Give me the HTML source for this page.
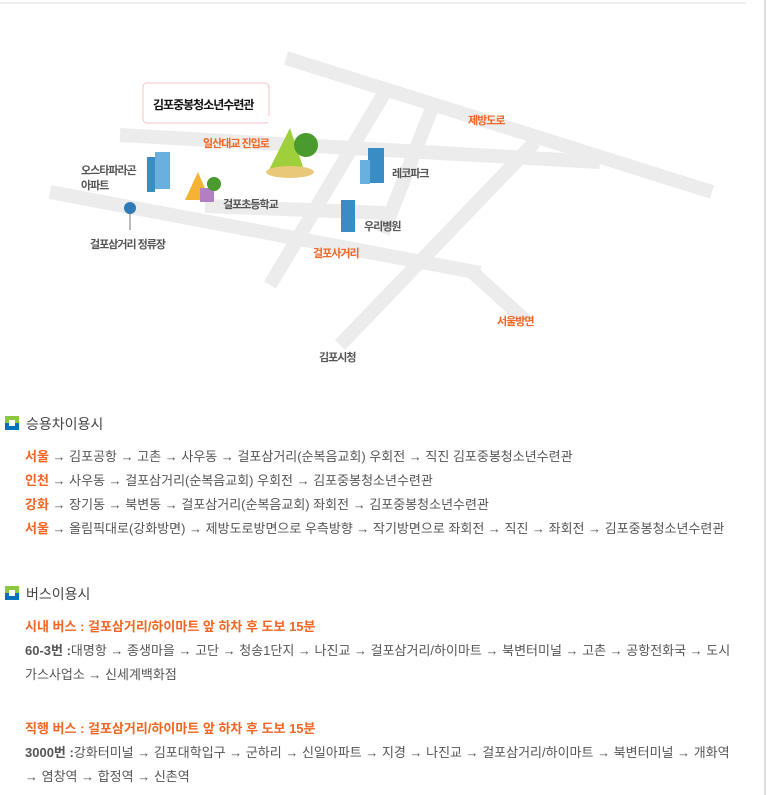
<!DOCTYPE html>
<html><head><meta charset="utf-8"><style>
body{margin:0;width:767px;height:795px;background:#fff;position:relative;overflow:hidden;font-family:"Liberation Sans","Noto Sans CJK KR","NanumGothic",sans-serif;}
.a{position:absolute;white-space:nowrap}
.ml{font-size:11px;color:#555;font-weight:bold;letter-spacing:-1px}
.or{color:#f26522}
.h{font-size:14px;color:#444;left:26px}
.ic{position:absolute;left:5px;width:14px;height:14px;background:linear-gradient(#8dc63f 50%,#0072bc 50%)}
.ic:after{content:"";position:absolute;left:4px;top:4px;width:6px;height:6px;background:#fff}
.t{font-size:13px;color:#555;left:25px;line-height:16px}
.o{color:#f26522;font-weight:bold}
b{color:#555}
</style></head><body>
<div style="position:absolute;left:0;top:2px;width:746px;height:2px;background:#eee"></div>
<div style="position:absolute;left:764px;top:0;width:2px;height:795px;background:#ddd"></div>
<svg width="767" height="380" style="position:absolute;left:0;top:0">
<g stroke="#ececec" stroke-width="14" fill="none" stroke-linecap="butt">
<line x1="286" y1="58" x2="712" y2="192"/>
<line x1="120" y1="135" x2="600" y2="162"/>
<line x1="50" y1="192" x2="480" y2="273"/>
<line x1="470" y1="270" x2="525" y2="320"/>
<line x1="385" y1="92" x2="270" y2="285"/>
<line x1="535" y1="142" x2="340" y2="345"/>
<line x1="432" y1="108" x2="383" y2="233"/>
<line x1="205" y1="206" x2="385" y2="213"/>
</g>
<rect x="143" y="83" width="126" height="40" rx="4" fill="#fff" stroke="#f4c4c4"/>
<polygon points="258,112 281,120 268,122" fill="#fff"/>
<rect x="147" y="157" width="8" height="35" fill="#3a8cc4"/><rect x="155" y="152" width="15" height="37" fill="#69b0df"/>
<rect x="368" y="148" width="16" height="35" fill="#3a8cc4"/><rect x="360" y="160" width="10" height="24" fill="#69b0df"/>
<rect x="341" y="200" width="14" height="32" fill="#3a8cc4"/>
<circle cx="130" cy="208" r="6" fill="#2e7ab8"/><line x1="130" y1="214" x2="130" y2="230" stroke="#bbb" stroke-width="2"/>
<path d="M268 172 L290 128 L304 170Z" fill="#9fcf3a"/><ellipse cx="290" cy="172" rx="24" ry="6" fill="#e8c97a"/><circle cx="306" cy="145" r="12" fill="#4a9a2e"/>
<path d="M185 200 L198 172 L210 200Z" fill="#f4b333"/><rect x="200" y="188" width="14" height="14" fill="#b27fc3"/><circle cx="214" cy="184" r="7" fill="#4a9a2e"/>
</svg>
<div class="a" style="left:153px;top:96px;font-size:12px;font-weight:bold;color:#111;letter-spacing:-1px">김포중봉청소년수련관</div>
<div class="a ml or" style="left:203px;top:135px">일산대교 진입로</div>
<div class="a ml or" style="left:468px;top:112px">제방도로</div>
<div class="a ml" style="left:81px;top:164px;line-height:15px">오스타파라곤<br>아파트</div>
<div class="a ml" style="left:392px;top:165px">레코파크</div>
<div class="a ml" style="left:223px;top:196px">걸포초등학교</div>
<div class="a ml" style="left:364px;top:218px">우리병원</div>
<div class="a ml" style="left:90px;top:236px">걸포삼거리 정류장</div>
<div class="a ml or" style="left:313px;top:245px">걸포사거리</div>
<div class="a ml or" style="left:497px;top:313px">서울방면</div>
<div class="a ml" style="left:319px;top:349px">김포시청</div>

<div class="ic" style="top:416px"></div>
<div class="a h" style="top:414px">승용차이용시</div>
<div class="a t" style="top:449px"><span class="o">서울</span> → 김포공항 → 고촌 → 사우동 → 걸포삼거리(순복음교회) 우회전 → 직진 김포중봉청소년수련관</div>
<div class="a t" style="top:473px"><span class="o">인천</span> → 사우동 → 걸포삼거리(순복음교회) 우회전 → 김포중봉청소년수련관</div>
<div class="a t" style="top:497px"><span class="o">강화</span> → 장기동 → 북변동 → 걸포삼거리(순복음교회) 좌회전 → 김포중봉청소년수련관</div>
<div class="a t" style="top:521px"><span class="o">서울</span> → 올림픽대로(강화방면) → 제방도로방면으로 우측방향 → 작기방면으로 좌회전 → 직진 → 좌회전 → 김포중봉청소년수련관</div>

<div class="ic" style="top:586px"></div>
<div class="a h" style="top:584px">버스이용시</div>
<div class="a t" style="top:619px"><span class="o">시내 버스 : 걸포삼거리/하이마트 앞 하차 후 도보 15분</span></div>
<div class="a t" style="top:643px"><b>60-3번 :</b>대명항 → 종생마을 → 고단 → 청송1단지 → 나진교 → 걸포삼거리/하이마트 → 북변터미널 → 고촌 → 공항전화국 → 도시</div>
<div class="a t" style="top:667px">가스사업소 → 신세계백화점</div>
<div class="a t" style="top:721px"><span class="o">직행 버스 : 걸포삼거리/하이마트 앞 하차 후 도보 15분</span></div>
<div class="a t" style="top:745px"><b>3000번 :</b>강화터미널 → 김포대학입구 → 군하리 → 신일아파트 → 지경 → 나진교 → 걸포삼거리/하이마트 → 북변터미널 → 개화역</div>
<div class="a t" style="top:769px">→ 염창역 → 합정역 → 신촌역</div>
</body></html>
